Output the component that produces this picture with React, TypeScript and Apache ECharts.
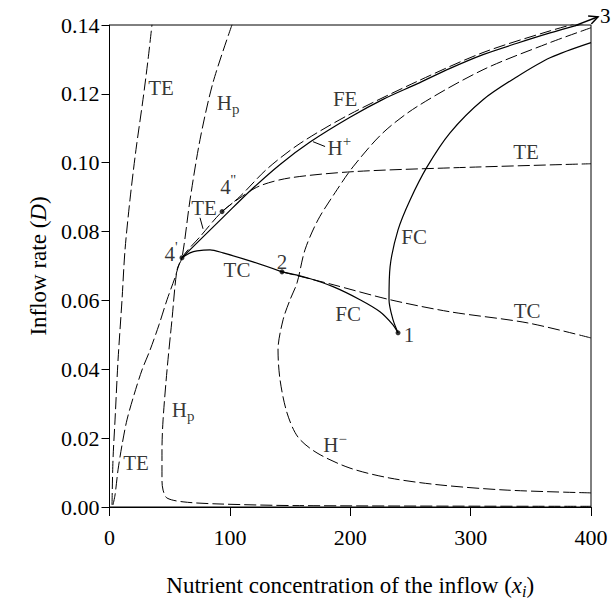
import React, { useEffect, useRef } from "react";
import * as echarts from "echarts";

const FONT = "Liberation Serif";

// x-axis ticks and y-axis ticks
const xTicks = [0, 100, 200, 300, 400];
const yTicks = [0, 0.02, 0.04, 0.06, 0.08, 0.1, 0.12, 0.14];

// Curves: [x_i, D]
const teLeftX = [2.1, 2.9, 4.6, 7.1, 10.4, 12.9, 17.0, 22.0, 27.8, 32.0, 35.3];
const teLeftD = [0.0006, 0.0137, 0.0253, 0.0427, 0.0602, 0.0747, 0.0892, 0.1038, 0.1183, 0.1299, 0.1401];

const teMainX = [2.9, 4.6, 7.1, 10.4, 14.5, 20.4, 27.0, 33.7, 41.1, 47.8, 54.4, 60.2, 75.2, 93.5, 108.4, 125.0, 149.9, 202.3, 282.9, 400];
const teMainD = [0.0006, 0.0035, 0.0108, 0.018, 0.0253, 0.0326, 0.0398, 0.0456, 0.0529, 0.0602, 0.0666, 0.0724, 0.0785, 0.0858, 0.0898, 0.0933, 0.0956, 0.0974, 0.0985, 0.0997];

const hpX = [101.8, 86.0, 75.2, 66.9, 60.2, 56.1, 51.9, 47.8, 44.5, 43.6, 43.6, 44.5, 47.8, 61.1, 89.3, 158, 400];
const hpD = [0.1401, 0.1233, 0.1067, 0.0892, 0.0724, 0.0689, 0.0544, 0.0398, 0.0253, 0.0166, 0.0078, 0.0049, 0.0026, 0.0015, 0.0009, 0.0004, 0.0002];

const hPlusX = [60.2, 75.2, 95.1, 116.7, 141.7, 166.6, 199.8, 227.2, 255.5, 282.9, 310.3, 338.6, 366.0, 393.4, 400];
const hPlusD = [0.0724, 0.0776, 0.0844, 0.0918, 0.0995, 0.106, 0.1132, 0.1184, 0.1229, 0.1274, 0.1314, 0.1347, 0.1377, 0.1404, 0.141];

const feX = [93.5, 108.4, 130.9, 158.3, 199.8, 255.5, 310.3, 366.0, 400];
const feD = [0.0858, 0.0902, 0.0982, 0.1056, 0.1141, 0.1236, 0.132, 0.1383, 0.1416];

const hMinusX = [400, 330.3, 274.6, 233.0, 199.8, 172.4, 156.6, 147.5, 141.7, 140.0, 144.2, 150.0, 155.8, 162.4, 173.2, 187.4, 202.3, 227.2, 255.5, 310.3, 366.0, 400];
const hMinusD = [0.0041, 0.0049, 0.0064, 0.0084, 0.0113, 0.0157, 0.0203, 0.0273, 0.0369, 0.0456, 0.0544, 0.0602, 0.0651, 0.0747, 0.0834, 0.0913, 0.0988, 0.1087, 0.1163, 0.127, 0.1349, 0.1392];

const tcSolidX = [60.2, 66.9, 72.7, 83.5, 94.3, 119.2, 143.3];
const tcSolidD = [0.0724, 0.0738, 0.0744, 0.0747, 0.0738, 0.0712, 0.0683];

const fcLowerX = [143.3, 164.1, 185.7, 208.1, 224.7, 235.5, 239.7];
const fcLowerD = [0.0683, 0.0666, 0.064, 0.0602, 0.0567, 0.0529, 0.0506];

const fcUpperX = [239.7, 235.5, 232.2, 233.1, 239.7, 249.7, 263.8, 282.9, 310.3, 338.6, 366.0, 400];
const fcUpperD = [0.0506, 0.0544, 0.0602, 0.0698, 0.0805, 0.0892, 0.0988, 0.1087, 0.1183, 0.125, 0.1305, 0.1349];

const tcDashX = [143.3, 183.2, 233.1, 282.9, 346.9, 400];
const tcDashD = [0.0683, 0.0648, 0.0602, 0.0567, 0.0535, 0.0491];

// Special points 4', 4'', 2, 1
const pointX = [60.2, 93.5, 143.3, 239.7];
const pointD = [0.0724, 0.0858, 0.0683, 0.0506];

// Point 3 lies just outside the frame
const arrowFrom = [386.8, 0.1398];
const arrowTo = [405.9, 0.1424];

// Text labels
const labelTexts = ["{n|TE}", "{n|H}{sub|p}", "{n|FE}", "{n|H}{sup|+}", "{n|TE}", "{n|4}{sup|''}", "{n|TE}", "{n|4}{sup|'}", "{n|TC}", "{n|2}", "{n|FC}", "{n|FC}", "{n|TC}", "{n|1}", "{n|TE}", "{n|H}{sub|p}", "{n|H}{sup|\u2212}"];
const labelX = [42.8, 98.5, 195.8, 190.9, 346.1, 98.5, 78.5, 51.1, 105.9, 143.3, 253.0, 198.2, 346.9, 248.9, 22.0, 61.1, 187.4];
const labelD = [0.1218, 0.1174, 0.1184, 0.1044, 0.1032, 0.093, 0.0869, 0.0735, 0.0689, 0.0712, 0.0785, 0.0561, 0.057, 0.05, 0.0128, 0.0282, 0.018];

// Leader lines from labels to curves
const leaders = [
  [[169.1, 0.1061], [179.1, 0.1047]],
  [[75.2, 0.084], [77.7, 0.0808]],
];

const zip = (xs: number[], ys: number[]) => xs.map((x, i) => [x, ys[i]]);

const rich = {
  n: { fontFamily: FONT, fontSize: 21, color: "#000", lineHeight: 24 },
  sub: { fontFamily: FONT, fontSize: 15, color: "#000", padding: [13, 0, 0, 0] },
  sup: { fontFamily: FONT, fontSize: 15, color: "#000", padding: [0, 0, 13, 0] },
  t: { fontFamily: FONT, fontSize: 23, color: "#000", lineHeight: 26 },
  i: { fontFamily: FONT, fontSize: 23, color: "#000", fontStyle: "italic", lineHeight: 26 },
  is: { fontFamily: FONT, fontSize: 16, color: "#000", fontStyle: "italic", padding: [12, 0, 0, 0] },
};

function curve(name: string, xs: number[], ys: number[], dashed: boolean) {
  return {
    type: "line",
    name,
    data: zip(xs, ys),
    symbol: "none",
    smooth: 0.3,
    silent: true,
    lineStyle: { color: "#000", width: dashed ? 1 : 1.2, type: dashed ? [12, 4] : "solid" },
  };
}

export default function App() {
  const ref = useRef<HTMLDivElement>(null);
  useEffect(() => {
    if (!ref.current) return;
    const chart = echarts.init(ref.current, null, { renderer: "svg" });
    const option: any = {
      animation: false,
      backgroundColor: "#fff",
      grid: { left: 109.5, right: 23, top: 25, bottom: 107, show: true, borderColor: "#000", borderWidth: 1, backgroundColor: "transparent" },
      xAxis: {
        type: "value",
        min: xTicks[0],
        max: xTicks[xTicks.length - 1],
        interval: 100,
        name: "{t|Nutrient concentration of the inflow (}{i|x}{is|i}{t|)}",
        nameLocation: "middle",
        nameGap: 64,
        nameTextStyle: { rich },
        axisLine: { lineStyle: { color: "#000", width: 1 } },
        axisTick: { inside: false, length: 9, lineStyle: { color: "#000" } },
        axisLabel: { color: "#000", fontFamily: FONT, fontSize: 22, margin: 19 },
        splitLine: { show: false },
      },
      yAxis: {
        type: "value",
        min: yTicks[0],
        max: yTicks[yTicks.length - 1],
        interval: 0.02,
        name: "{t|Inflow rate (}{i|D}{t|)}",
        nameLocation: "middle",
        nameGap: 58,
        nameTextStyle: { rich },
        axisLine: { show: true, lineStyle: { color: "#000", width: 1 } },
        axisTick: { show: true, inside: false, length: 8, lineStyle: { color: "#000" } },
        axisLabel: { color: "#000", fontFamily: FONT, fontSize: 22, margin: 10, formatter: (v: number) => v.toFixed(2) },
        splitLine: { show: false },
      },
      series: [
        curve("TE left", teLeftX, teLeftD, true),
        curve("TE", teMainX, teMainD, true),
        curve("Hp", hpX, hpD, true),
        curve("H+", hPlusX, hPlusD, false),
        curve("FE", feX, feD, true),
        curve("H-", hMinusX, hMinusD, true),
        curve("TC solid", tcSolidX, tcSolidD, false),
        curve("FC lower", fcLowerX, fcLowerD, false),
        curve("FC upper", fcUpperX, fcUpperD, false),
        curve("TC dashed", tcDashX, tcDashD, true),
        {
          type: "scatter",
          name: "points",
          data: zip(pointX, pointD),
          symbol: "circle",
          symbolSize: 5,
          silent: true,
          itemStyle: { color: "#000" },
        },
        {
          type: "line",
          name: "leaders",
          data: [],
          silent: true,
          markLine: {
            silent: true,
            symbol: ["none", "none"],
            lineStyle: { color: "#000", width: 1, type: "solid" },
            label: { show: false },
            data: leaders.map((l) => [{ coord: l[0] }, { coord: l[1] }]),
          },
        },
        {
          type: "scatter",
          name: "labels",
          silent: true,
          symbolSize: 1,
          itemStyle: { color: "rgba(0,0,0,0)" },
          data: labelTexts.map((t, i) => ({ value: [labelX[i], labelD[i]], label: { formatter: t } })),
          label: { show: true, position: "inside", rich },
        },
      ],
    };
    chart.setOption(option);

    // Arrow pointing to point 3 (outside the frame), positioned through the axes' scales
    const p1 = chart.convertToPixel({ gridIndex: 0 }, arrowFrom) as number[];
    const p2 = chart.convertToPixel({ gridIndex: 0 }, arrowTo) as number[];
    const ang = Math.atan2(p2[1] - p1[1], p2[0] - p1[0]);
    const headLen = 10;
    const spread = 0.45;
    const h1 = [p2[0] - headLen * Math.cos(ang - spread), p2[1] - headLen * Math.sin(ang - spread)];
    const h2 = [p2[0] - headLen * Math.cos(ang + spread), p2[1] - headLen * Math.sin(ang + spread)];
    chart.setOption({
      graphic: [
        { type: "line", silent: true, shape: { x1: p1[0], y1: p1[1], x2: p2[0], y2: p2[1] }, style: { stroke: "#000", lineWidth: 1.4 } },
        { type: "polyline", silent: true, shape: { points: [h1, p2, h2] }, style: { stroke: "#000", fill: null, lineWidth: 1.4 } },
        { type: "text", silent: true, x: p2[0] + 2, y: p2[1] - 1, style: { text: "3", fill: "#000", fontFamily: FONT, fontSize: 21, verticalAlign: "middle", align: "left" } },
      ],
    });
    return () => chart.dispose();
  }, []);
  return <div ref={ref} style={{ position: "fixed", left: 0, top: 0, width: 614, height: 614, background: "#fff" }} />;
}
